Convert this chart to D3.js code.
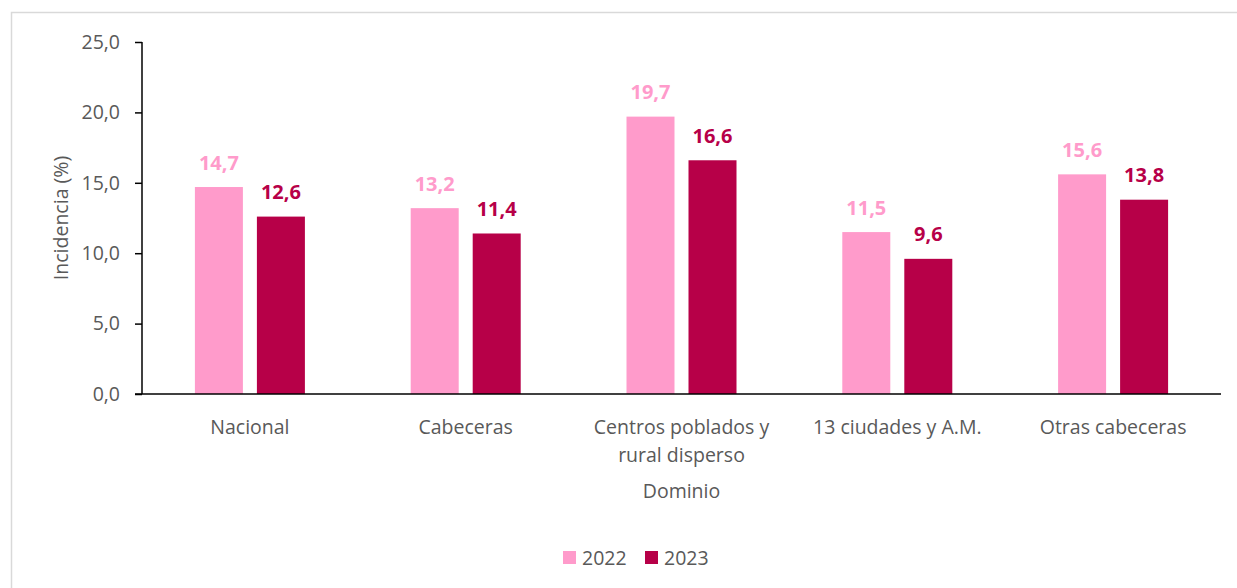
<!DOCTYPE html>
<html><head><meta charset="utf-8">
<script src="https://cdn.jsdelivr.net/npm/d3@7"></script>
<style>body{margin:0;background:#fff;} text{font-family:"Open Sans","Noto Sans",sans-serif;}</style>
</head><body>
<svg id="c" width="1237" height="588"></svg>
<script>
const categories = [["Nacional"],["Cabeceras"],["Centros poblados y","rural disperso"],["13 ciudades y A.M."],["Otras cabeceras"]];
const years = ["2022","2023"];
const values2022 = [14.7,13.2,19.7,11.5,15.6];
const values2023 = [12.6,11.4,16.6,9.6,13.8];
const yTicks = [0,5,10,15,20,25];
const colors = {"2022":"#FF9BCB","2023":"#B70048"};

const svg = d3.select("#c");
svg.append("rect").attr("x",11.5).attr("y",12.5).attr("width",1240).attr("height",590)
  .attr("fill","#fff").attr("stroke","#d9d9d9").attr("stroke-width",1.5);

const L=142,R=1221,T=42,B=394;
const x0 = d3.scaleBand().domain(d3.range(categories.length)).range([L,R]).padding(0);
const x1 = d3.scaleBand().domain(years).range([-55,55]).paddingInner(14/62);
const y = d3.scaleLinear().domain([0,25]).range([B,T]);
const fmt = v => d3.format(".1f")(v).replace(".",",");

const yAxis = svg.append("g").attr("transform",`translate(${L},0)`)
  .call(d3.axisLeft(y).tickValues(yTicks).tickFormat(fmt).tickSize(7).tickPadding(15));
yAxis.select(".domain").attr("stroke","#000").attr("stroke-width",1.5).attr("d",`M0,${T}V${B}`);
yAxis.selectAll(".tick line").attr("stroke","#000").attr("stroke-width",1.5);
yAxis.selectAll(".tick text").attr("fill","#595959").style("font-size","19.5px").style("font-family","'Open Sans'");

const series = years.map((yr,i)=>({year:yr, vals: i===0?values2022:values2023}));
series.forEach(s=>{
  const g = svg.append("g");
  g.selectAll("rect").data(s.vals).join("rect")
    .attr("x",(d,i)=>x0(i)+x0.bandwidth()/2+x1(s.year))
    .attr("y",d=>y(d)).attr("width",x1.bandwidth()).attr("height",d=>B-y(d))
    .attr("fill",colors[s.year]);
  g.selectAll("text").data(s.vals).join("text")
    .attr("x",(d,i)=>x0(i)+x0.bandwidth()/2+x1(s.year)+x1.bandwidth()/2)
    .attr("y",d=>y(d)-17.5).attr("text-anchor","middle")
    .attr("fill",colors[s.year]).style("font-weight","bold").style("font-size","20px")
    .text(d=>fmt(d));
});

// x axis line
svg.append("line").attr("x1",135).attr("x2",R).attr("y1",B).attr("y2",B).attr("stroke","#000").attr("stroke-width",1.5);

const xl = svg.append("g");
categories.forEach((c,i)=>{
  const t = xl.append("text").attr("x",x0(i)+x0.bandwidth()/2).attr("y",434)
    .attr("text-anchor","middle").attr("fill","#595959").style("font-size","19.5px");
  c.forEach((line,j)=>t.append("tspan").attr("x",x0(i)+x0.bandwidth()/2).attr("dy",j===0?0:28).text(line));
});

svg.append("text").attr("x",(L+R)/2).attr("y",498).attr("text-anchor","middle")
  .attr("fill","#595959").style("font-size","19.5px").text("Dominio");
svg.append("text").attr("transform",`translate(68,${(T+B)/2}) rotate(-90)`).attr("text-anchor","middle")
  .attr("fill","#595959").style("font-size","19.5px").text("Incidencia (%)");

const leg = svg.append("g");
const legX = [563,645];
years.forEach((yr,i)=>{
  leg.append("rect").attr("x",legX[i]).attr("y",551).attr("width",13).attr("height",13).attr("fill",colors[yr]);
  leg.append("text").attr("x",legX[i]+19).attr("y",565).attr("fill","#595959").style("font-size","19.5px").text(yr);
});
</script>
</body></html>
